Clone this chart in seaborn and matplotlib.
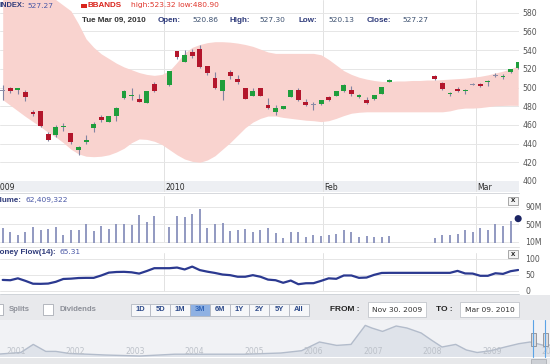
import numpy as np
import pandas as pd
import matplotlib
matplotlib.use("Agg")
import matplotlib.pyplot as plt
import matplotlib.transforms as mtransforms
from matplotlib.patches import Rectangle
import seaborn as sns

nan = np.nan

# ---------- values (one slot per trading day, nan = no data) ----------
day = np.arange(69)
opens = [496, 500, 497, 495, 474, 474.5, 450, 449, 458, 451, 433, 441.5, 456.5, 468, 463.5, 469,
         489, 491, 488, 483.5, 503.5, nan, 502.5, 539, 527.5, 537.5, 541, 523, 510.5, 496.5,
         516.5, 509.5, 499.5, 491, 499.5, 481, 473.5, 477, 490, 497, 484, 481, 482.5, 489.5,
         491, 496, 497.5, 490, 486.5, 488, 493.5, 506, nan, nan, nan, nan, nan, 512.5, 505,
         493, 498.5, 496, 503, 503.5, 505.5, 512, 511.5, 516.5, 520.86]
highs = [503, 500.5, 499.5, 497, 476, 475, 452, 460, 462, 451, 437.5, 449, 463, 470.5, 470, 479,
         497.5, 500, 493.5, 496.5, 506, nan, 518, 539.5, 540, 541, 545, 523, 517, 508.5,
         518.5, 513, 500, 499, 500, 488.5, 481, 480.5, 497.5, 500, 488, 484, 487, 490.5,
         496.5, 503.5, 501.5, 493, 489.5, 492.5, 501, 509.5, nan, nan, nan, nan, nan, 513, 505.5,
         495, 500.5, 498, 504.5, 505, 508, 516, 514, 519.5, 527.30]
lows = [487, 494, 493, 486, 470, 458, 443, 447.5, 453, 440, 428, 440, 452, 463, 463, 464,
        488, 486.5, 485, 483, 495.5, nan, 502, 531, 527, 532, 521, 513, 498.5, 486.5,
        509.5, 504, 487.5, 490.5, 490.5, 477, 471, 476.5, 489.5, 486, 480.5, 476, 481, 486,
        490.5, 495.5, 491, 488.5, 482.5, 487, 493, 505.5, nan, nan, nan, nan, nan, 507.5, 497.5,
        490.5, 495.5, 493, 502.5, 500.5, 502, 511.5, 509.5, 516, 520.13]
closes = [496.3, 496, 499, 490, 472, 459, 444, 458, 459, 441.5, 436, 443.5, 460.5, 465, 470, 478.5,
          496, 492.5, 485, 496, 496, nan, 517.5, 533, 534.5, 534, 521.5, 516, 499, 508,
          512.5, 506, 488, 496, 491, 478, 478, 480, 497, 486.5, 481, 481.3, 486.5, 487,
          496, 503, 493.5, 492, 483, 492, 500.5, 507.5, nan, nan, nan, nan, nan, 509.5, 498,
          494.5, 496.5, 497.5, 503.3, 501.5, 506.5, 512.3, 512, 519.5, 527.27]
bb_upper = [600, 600, 600, 600, 600, 600, 598, 594, 588, 582,
            568, 552, 543, 536, 531, 526, 522, 519, 516, 514,
            513, 514, 518, 527, 537, 543, 546, 548, 549, 549,
            548.5, 547.5, 546, 544, 541, 538, 536.5, 536.5, 536.5, 536.5,
            536.5, 536.5, 535, 530, 524, 518, 514, 511, 509, 507.5,
            506.5, 506.5, 507, 507, 507.5, 507.5, 508, 508, 508.5, 509,
            509.5, 510, 511, 512, 513.5, 515.5, 517.5, 520, 523.32]
bb_lower = [487, 481, 475, 469, 463.5, 458, 452, 447, 441, 434,
            429, 426.5, 426, 426.5, 428, 431, 435, 441, 445, 444.5,
            442.5, 439, 433.5, 428, 423.5, 421, 420, 422.5, 427, 434,
            441, 449, 457, 463, 467, 469.5, 469.5, 468, 467, 466,
            465, 464.5, 463.5, 464.5, 467, 470, 472.5, 473.5, 474, 474,
            474, 474, 474, 474, 474, 474, 474, 474, 474, 475,
            477, 478, 478, 478.5, 479.5, 480.5, 480.8, 481, 480.90]
volume_m = [40.4, 31, 24.4, 31, 43.6, 36.4, 38.8, 43.6, 26, 36.4, 37.2, 50.8, 34, 46, 39.6, 50,
            50.8, 48.4, 70, 54.8, 68.4, nan, 42.8, 67.6, 65.2, 74, 83.6, 42, 50.8, 53.2,
            34, 36.4, 39.6, 32.4, 37.6, 40.4, 29.2, 19, 33, 33, 21.4, 25.3, 23, 25.3,
            26.8, 37, 33, 21.4, 23.7, 20.6, 20.6, 23, nan, nan, nan, nan, nan, 19, 25.3,
            25.3, 26.8, 37, 33, 41, 37, 50.2, 44.8, 56.5, 62.41]
money_flow = [34, 33, 39, 31, 22, 21.6, 22.5, 28, 37, 38, 40, 40.5, 40.5, 48, 57, 59,
              59.5, 58, 54, 62, 71, nan, 71, 73, 67, 76, 65, 60, 56, 51,
              49, 44, 44, 49, 44, 35, 33, 25, 32, 20.5, 23.5, 23.7, 31, 39,
              37.5, 48, 48, 40.5, 41.5, 50, 56, 56.3, nan, nan, nan, nan, nan, 56.3, 56.3,
              56.3, 62.5, 54.5, 54, 47, 47, 55, 53, 61.5, 65.31]

date_grid = [-1.22, 21.28, 42.26, 62.44]
date_labels = ["2009", "2010", "Feb", "Mar"]
price_ticks = [400, 420, 440, 460, 480, 500, 520, 540, 560, 580]
vol_ticks = [10, 50, 90]
vol_labels = ["10M", "50M", "90M"]
mf_ticks = [0, 50, 100]

nav_year = [2000.73, 2001.08, 2001.29, 2001.5, 2001.67, 2001.9, 2002.2, 2002.5, 2003.08,
            2003.67, 2004.26, 2004.86, 2005.45, 2005.8, 2006.1, 2006.39, 2006.63, 2006.87,
            2006.98, 2007.16, 2007.39, 2007.57, 2007.81, 2007.98, 2008.16, 2008.39, 2008.57,
            2008.75, 2008.98, 2009.22, 2009.45, 2009.64, 2009.76, 2009.87, 2009.98]
nav_level = [30, 45, 126, 56, 56, 35, 28, 20, 10, 28, 28, 28, 40, 63, 150, 116, 126, 316,
             290, 256, 310, 290, 240, 170, 100, 126, 70, 45, 63, 100, 133, 150, 133, 116, 120]
nav_years = [2001, 2002, 2003, 2004, 2005, 2006, 2007, 2008, 2009, 2010]
buttons = ["1D", "5D", "1M", "3M", "6M", "1Y", "2Y", "5Y", "All"]

df = pd.DataFrame({"day": day, "open": opens, "high": highs, "low": lows, "close": closes,
                   "upper": bb_upper, "lower": bb_lower, "volume": volume_m, "mf": money_flow})

sns.set_style("white")
plt.rcParams["font.family"] = ["DejaVu Sans"]
plt.rcParams["font.size"] = 5.4
BOLDF = ["Liberation Sans", "DejaVu Sans"]

W, H = 550, 364
fig = plt.figure(figsize=(W / 100, H / 100), dpi=100)


def box(x0, y0, x1, y1):
    return [x0 / W, 1 - y1 / H, (x1 - x0) / W, (y1 - y0) / H]


def ftext(x, y, s, bold=False, **kw):
    kw.setdefault("va", "center")
    if bold:
        kw.setdefault("family", BOLDF)
        kw.setdefault("fontsize", 5.8)
        kw["weight"] = "bold"
    fig.text(x / W, 1 - y / H, s, **kw)


def frect(x0, y0, x1, y1, **kw):
    fig.add_artist(Rectangle((x0 / W, 1 - y1 / H), (x1 - x0) / W, (y1 - y0) / H,
                             transform=fig.transFigure, **kw))


XLIM = (-0.356, 68.11)
GRID = "#e6e6e6"
TICKC = "#555555"

ax_p = fig.add_axes(box(0, 0, 519, 181))
ax_d = fig.add_axes(box(0, 181, 519, 192))
ax_v = fig.add_axes(box(0, 196, 519, 243))
ax_m = fig.add_axes(box(0, 253, 519, 292))
ax_n = fig.add_axes(box(0, 320, 550, 357))

for ax in (ax_p, ax_d, ax_v, ax_m, ax_n):
    for s in ax.spines.values():
        s.set_visible(False)
    ax.tick_params(axis="x", bottom=False, labelbottom=False)

for ax in (ax_p, ax_d, ax_v, ax_m):
    ax.set_xlim(*XLIM)
    for g in date_grid:
        ax.axvline(g, color="#e2e2e2", lw=0.7, zorder=0)

# ---------- price panel ----------
ax_p.fill_between(df["day"], df["lower"], df["upper"], color="#f9d3cf", lw=0, zorder=1)
c = df.dropna(subset=["open"])
body = c["close"] - c["open"]
doji = body.abs() < 0.5
colors = np.where(doji, "#8b8ca6", np.where(body > 0, "#1f9e3c", "#b3162c"))
height = np.where(body.abs() < 0.9, np.where(body < 0, -0.9, 0.9), body)
ax_p.vlines(c["day"], c["low"], c["high"], color="#8284a2", lw=0.8, zorder=2)
ax_p.bar(c["day"], height, bottom=c["open"], width=0.64, color=colors, lw=0, zorder=3)
ax_p.set_ylim(400, 593.6)
ax_p.set_yticks(price_ticks)
ax_p.yaxis.tick_right()
ax_p.tick_params(axis="y", length=0, pad=2.5, labelsize=5.6, labelcolor=TICKC)
ax_p.grid(True, axis="y", color=GRID, lw=0.7)
ax_p.set_axisbelow(True)

# ---------- date strip ----------
ax_d.set_facecolor("#edeff3")
ax_d.set_ylim(0, 1)
ax_d.set_yticks([])
for g, lab in zip(date_grid, date_labels):
    ax_d.text(g + 0.2, 0.45, lab, ha="left", va="center", color="#2b2b2b", fontsize=5.6)

# ---------- volume panel ----------
vb = df.iloc[:-1].dropna(subset=["volume"])
ax_v.vlines(vb["day"], 0, vb["volume"], color="#7f88b6", lw=1.2)
sns.scatterplot(x=df["day"].iloc[-1:], y=df["volume"].iloc[-1:], ax=ax_v, color="#1b2463",
                s=26, edgecolor="none", clip_on=False, zorder=5, legend=False)
ax_v.set_ylim(6.98, 113.95)
ax_v.set_yticks(vol_ticks)
ax_v.set_yticklabels(vol_labels)
ax_v.yaxis.tick_right()
ax_v.tick_params(axis="y", length=0, pad=4.5, labelsize=5.6, labelcolor=TICKC)
ax_v.grid(True, axis="y", color=GRID, lw=0.7)
ax_v.set_axisbelow(True)
ax_v.set_xlabel("")
ax_v.set_ylabel("")

# ---------- money flow panel ----------
mf = df.dropna(subset=["mf"])
sns.lineplot(data=mf, x="day", y="mf", ax=ax_m, color="#2b3990", lw=1.6)
ax_m.set_ylim(-4.1, 118.9)
ax_m.set_yticks(mf_ticks)
ax_m.yaxis.tick_right()
ax_m.tick_params(axis="y", length=0, pad=4.5, labelsize=5.6, labelcolor=TICKC)
ax_m.grid(True, axis="y", color=GRID, lw=0.7)
ax_m.set_axisbelow(True)
ax_m.set_xlabel("")
ax_m.set_ylabel("")

# ---------- navigator ----------
ax_n.set_facecolor("#f1f2f5")
ax_n.fill_between(nav_year, nav_level, 0, color="#dfe3ea", lw=0)
sns.lineplot(x=nav_year, y=nav_level, ax=ax_n, color="#b3bccb", lw=1)
ax_n.set_xlim(2000.731, 2009.975)
ax_n.set_ylim(0, 370)
ax_n.set_yticks([])
trans = mtransforms.blended_transform_factory(ax_n.transData, ax_n.transAxes)
for yr in nav_years:
    ax_n.text(yr, 0.14, str(yr), transform=trans, ha="center", va="center",
              color="#bcc1c9", fontsize=5.6)

# ---------- header texts ----------
NAVY = "#2e3a7a"
VAL = "#4a58a6"
ftext(0, 5.5, "INDEX:", bold=True, color=NAVY, fontsize=5.4)
ftext(27, 5.5, "527.27", color=VAL)
frect(81, 4, 87, 7.5, facecolor="#d9241c", lw=0)
ftext(87.5, 5.5, "BBANDS", bold=True, color="#d9241c")
ftext(131, 5.5, "high:523.32 low:480.90", color="#e0382e")
ftext(82, 20, "Tue Mar 09, 2010", bold=True, color="#333333")
for x, s, bold in [(158, "Open:", True), (192, "520.86", False), (230, "High:", True),
                   (259, "527.30", False), (299, "Low:", True), (328, "520.13", False),
                   (367, "Close:", True), (402, "527.27", False)]:
    ftext(x, 20, s, bold=bold, color=NAVY if bold else "#3d5170")

ftext(22, 200, "Volume:", bold=True, ha="right", color=NAVY)
ftext(25, 200, "62,409,322", color=VAL)
ftext(56, 252, "Money Flow(14):", bold=True, ha="right", color=NAVY)
ftext(60, 252, "65.31", color=VAL)
for yb in (197, 250):
    frect(508, yb, 518, yb + 8, facecolor="#f4f4f4", edgecolor="#9a9a9a", lw=0.6)
    ftext(513, yb + 4, "x", bold=True, ha="center", color="#222222", fontsize=5.6)

# panel separators
for y, col in [(192.5, "#d6d8dc"), (247, "#e2e2e2"), (293.5, "#cfd3d8")]:
    fig.add_artist(plt.Line2D([0, 519 / W], [1 - y / H] * 2, transform=fig.transFigure,
                              color=col, lw=0.7))

# ---------- controls bar ----------
frect(0, 295, 550, 320, facecolor="#e8e9ec", lw=0)
frect(-5, 304, 3, 315, facecolor="white", edgecolor="#a9adb5", lw=0.6)
ftext(9, 309.5, "Splits", bold=True, color="#8d9099", fontsize=5.6)
frect(43, 304, 53, 315, facecolor="white", edgecolor="#a9adb5", lw=0.6)
ftext(59, 309.5, "Dividends", bold=True, color="#8d9099", fontsize=5.6)
for i, lab in enumerate(buttons):
    x0 = 130.5 + i * 19.8
    sel = lab == "3M"
    frect(x0, 304, x0 + 19.8, 315.5, facecolor="#8fb1e3" if sel else "#f6f7f9",
          edgecolor="#b3b8c2", lw=0.6)
    ftext(x0 + 9.9, 309.8, lab, bold=True, ha="center", fontsize=5.4,
          color="#3366b8" if sel else "#2d4a8a")
ftext(330.5, 309.5, "FROM :", bold=True, color="#222222", fontsize=6)
frect(367.7, 302, 426.3, 317, facecolor="white", edgecolor="#c3c6cc", lw=0.6)
ftext(397, 309.5, "Nov 30. 2009", ha="center", color="#333333")
ftext(436, 309.5, "TO :", bold=True, color="#222222", fontsize=6)
frect(460, 302, 519.3, 317, facecolor="white", edgecolor="#c3c6cc", lw=0.6)
ftext(489.7, 309.5, "Mar 09. 2010", ha="center", color="#333333")

# navigator handles and scrollbar
for hx in (533, 545):
    fig.add_artist(plt.Line2D([hx / W] * 2, [1 - 320 / H, 1 - 357 / H], transform=fig.transFigure,
                              color="#5ba3e6", lw=0.8))
    frect(hx - 2.5, 333, hx + 2.5, 346, facecolor="#dcdde0", edgecolor="#8a8c92", lw=0.6)
frect(0, 358, 550, 364, facecolor="#e7e8ea", lw=0)
frect(531, 359, 546, 364, facecolor="#cdd0d5", edgecolor="#a5a8ae", lw=0.5)

fig.savefig("out.png", dpi=100)
